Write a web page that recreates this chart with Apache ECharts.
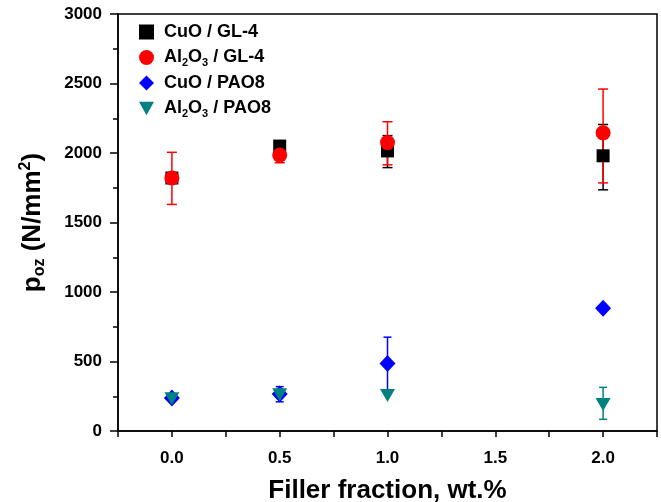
<!DOCTYPE html>
<html>
<head>
<meta charset="utf-8">
<script src="https://cdn.jsdelivr.net/npm/echarts@6/dist/echarts.min.js"></script>
<style>
  html, body { margin: 0; padding: 0; background: #fff; }
  #chart { width: 661px; height: 502px; }
</style>
</head>
<body>
<div id="chart"></div>
<script>
// filler fraction, wt.%
const xVals = [0, 0.5, 1.0, 2.0]

// p_oz values (N/mm^2)
const cuoGL = [1820, 2050, 2015, 1980]
const alGL = [1820, 1985, 2075, 2145]
const cuoPAO = [237, 266, 485, 883]
const alPAO = [232, 260, 256, 190]

// error bars [low, high], null = none drawn
const cuoGLErr = [[1800, 1840], [2035, 2068], [1895, 2125], [1735, 2205]]
const alGLErr = [[1630, 2005], [1930, 2035], [1915, 2225], [1785, 2460]]
const cuoPAOErr = [null, [210, 319], [290, 675], null]
const alPAOErr = [null, [245, 280], null, [84, 314]]

const yTicks = [0, 500, 1000, 1500, 2000, 2500, 3000]
const xTicks = [0, 0.5, 1.0, 1.5, 2.0]

const FONT = 'Liberation Sans, Arial, sans-serif'
const TRI = 'path://M0,0 L10,0 L5,9 Z'

function pts(vals) {
  return xVals.map((x, i) => [x, vals[i]])
}
function errPts(errs) {
  const out = []
  errs.forEach((e, i) => { if (e) out.push([xVals[i], e[0], e[1]]) })
  return out
}
function errSeries(errs, color, cap) {
  return {
    type: 'custom',
    name: 'err',
    silent: true,
    data: errPts(errs),
    encode: { x: 0, y: [1, 2] },
    renderItem: (params, api) => {
      const x = api.value(0)
      const lo = api.coord([x, api.value(1)])
      const hi = api.coord([x, api.value(2)])
      const st = { stroke: color, lineWidth: 1.5 }
      return {
        type: 'group',
        children: [
          { type: 'line', shape: { x1: hi[0], y1: hi[1], x2: lo[0], y2: lo[1] }, style: st },
          { type: 'line', shape: { x1: hi[0] - cap, y1: hi[1], x2: hi[0] + cap, y2: hi[1] }, style: st },
          { type: 'line', shape: { x1: lo[0] - cap, y1: lo[1], x2: lo[0] + cap, y2: lo[1] }, style: st },
        ],
      }
    },
  }
}

const names = {
  'CuO / GL-4': '{g|}{t|CuO / GL-4}',
  'Al2O3 / GL-4': '{g|}{t|Al}{s|2}{t|O}{s|3}{t| / GL-4}',
  'CuO / PAO8': '{g|}{t|CuO / PAO8}',
  'Al2O3 / PAO8': '{g|}{t|Al}{s|2}{t|O}{s|3}{t| / PAO8}',
}

const chart = echarts.init(document.getElementById('chart'))
chart.setOption({
  animation: false,
  backgroundColor: '#fff',
  grid: {
    left: 118, right: 4, top: 14, bottom: 71,
    outerBoundsMode: 'none',
    containLabel: false,
    show: true, borderColor: '#000', borderWidth: 1.5,
  },
  legend: {
    orient: 'vertical',
    left: 134,
    top: 18,
    itemWidth: 15,
    itemHeight: 15,
    itemGap: 6,
    data: [
      { name: 'CuO / GL-4', icon: 'rect' },
      { name: 'Al2O3 / GL-4', icon: 'circle' },
      { name: 'CuO / PAO8', icon: 'diamond' },
      { name: 'Al2O3 / PAO8', icon: TRI },
    ],
    formatter: (n) => names[n],
    textStyle: {
      rich: {
        g: { width: 5 },
        t: { fontFamily: FONT, fontWeight: 'bold', fontSize: 18, color: '#000', lineHeight: 19 },
        s: { fontFamily: FONT, fontWeight: 'bold', fontSize: 11, color: '#000', padding: [10, 0, 0, 0], lineHeight: 19 },
      },
    },
  },
  xAxis: {
    type: 'value',
    min: -0.25,
    max: 2.25,
    interval: 0.25,
    name: 'Filler fraction, wt.%',
    nameLocation: 'middle',
    nameGap: 47,
    nameTextStyle: { fontFamily: FONT, fontWeight: 'bold', fontSize: 26, color: '#000' },
    axisLine: { onZero: false, lineStyle: { color: '#000', width: 1.5 } },
    axisTick: { show: true, length: 6, lineStyle: { color: '#000', width: 1.5 } },
    axisLabel: {
      margin: 19,
      fontFamily: FONT, fontWeight: 'bold', fontSize: 17, color: '#000',
      formatter: (v) => xTicks.some(t => Math.abs(t - v) < 1e-6) ? v.toFixed(1) : '',
    },
    splitLine: { show: false },
  },
  yAxis: {
    type: 'value',
    min: yTicks[0],
    max: yTicks[yTicks.length - 1],
    interval: 500,
    name: '{p|p}{s|oz}{p| (N/mm}{u|2}{p|)}',
    nameLocation: 'middle',
    nameRotate: 90,
    nameGap: 70,
    nameTextStyle: {
      rich: {
        p: { fontFamily: FONT, fontWeight: 'bold', fontSize: 26, color: '#000', lineHeight: 30 },
        s: { fontFamily: FONT, fontWeight: 'bold', fontSize: 16, color: '#000', padding: [14, 0, 0, 0], lineHeight: 30 },
        u: { fontFamily: FONT, fontWeight: 'bold', fontSize: 16, color: '#000', padding: [0, 0, 14, 0], lineHeight: 30 },
      },
    },
    axisLine: { show: true, onZero: false, lineStyle: { color: '#000', width: 1.5 } },
    axisTick: { show: true, length: 8, lineStyle: { color: '#000', width: 1.5 } },
    minorTick: { show: true, splitNumber: 2, length: 5, lineStyle: { color: '#000', width: 1.5 } },
    axisLabel: {
      margin: 16, fontFamily: FONT, fontWeight: 'bold', fontSize: 17, color: '#000',
      formatter: (v) => String(v),
    },
    splitLine: { show: false },
  },
  series: [
    errSeries(cuoGLErr, '#000000', 5),
    {
      name: 'CuO / GL-4', type: 'scatter', symbol: 'rect', symbolSize: 13,
      itemStyle: { color: '#000000', opacity: 1 }, data: pts(cuoGL),
    },
    errSeries(alGLErr, '#ff0000', 5),
    {
      name: 'Al2O3 / GL-4', type: 'scatter', symbol: 'circle', symbolSize: 15,
      itemStyle: { color: '#ff0000', opacity: 1 }, data: pts(alGL),
    },
    errSeries(cuoPAOErr, '#0000ff', 4),
    {
      name: 'CuO / PAO8', type: 'scatter', symbol: 'diamond', symbolSize: [16, 17],
      itemStyle: { color: '#0000ff', opacity: 1 }, data: pts(cuoPAO),
    },
    errSeries(alPAOErr, '#008080', 4),
    {
      name: 'Al2O3 / PAO8', type: 'scatter', symbol: TRI, symbolSize: [15, 13],
      itemStyle: { color: '#008080', opacity: 1 }, data: pts(alPAO),
    },
  ],
})
</script>
</body>
</html>
